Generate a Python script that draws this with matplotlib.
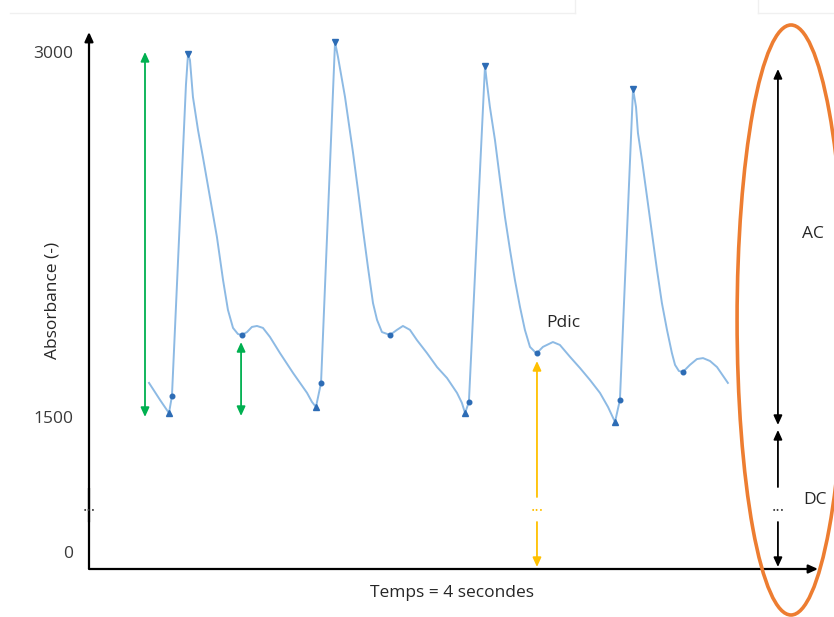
import numpy as np
import matplotlib
matplotlib.use('Agg')
import matplotlib.pyplot as plt
from matplotlib.patches import Ellipse
from matplotlib.lines import Line2D

plt.rcParams['font.family'] = ['Open Sans', 'DejaVu Sans']

# ---------------- data ----------------
time_s = [0.343, 0.406, 0.457, 0.474, 0.554, 0.566, 0.577, 0.594, 0.623, 0.651,
          0.691, 0.731, 0.766, 0.794, 0.823, 0.851, 0.874, 0.903, 0.931, 0.960,
          0.994, 1.034, 1.091, 1.166, 1.246, 1.274, 1.297,
          1.326, 1.406, 1.423, 1.463, 1.509, 1.537, 1.566, 1.594, 1.623, 1.646,
          1.674, 1.720, 1.760, 1.794, 1.834, 1.874, 1.931, 1.989, 2.046, 2.103,
          2.131, 2.149,
          2.171, 2.263, 2.274, 2.291, 2.320, 2.349, 2.377, 2.406, 2.434, 2.463,
          2.491, 2.520, 2.549, 2.560, 2.594, 2.651, 2.691, 2.749, 2.806, 2.863,
          2.920, 2.966, 3.006,
          3.034, 3.109, 3.126, 3.137, 3.160, 3.189, 3.217, 3.246, 3.274, 3.303,
          3.331, 3.349, 3.371, 3.394, 3.434, 3.474, 3.509, 3.549, 3.589, 3.651]
absorbance = [1640, 1570, 1516, 1586, 2864, 2992, 2967, 2815, 2679, 2568,
              2404, 2240, 2063, 1940, 1866, 1841, 1837, 1849, 1870, 1874,
              1866, 1829, 1763, 1681, 1599, 1562, 1541,
              1640, 3041, 2979, 2815, 2585, 2433, 2268, 2116, 1968, 1899,
              1849, 1837, 1858, 1874, 1858, 1816, 1763, 1705, 1660, 1599,
              1558, 1516,
              1562, 2942, 2873, 2774, 2638, 2474, 2322, 2186, 2063, 1952,
              1858, 1788, 1767, 1763, 1788, 1808, 1796, 1747, 1701, 1652,
              1599, 1541, 1444,
              1570, 2848, 2774, 2667, 2556, 2404, 2256, 2104, 1968, 1858,
              1763, 1714, 1689, 1685, 1714, 1738, 1742, 1730, 1705, 1640]

peak_t = [0.566, 1.406, 2.263, 3.109]
peak_v = [2992, 3041, 2942, 2848]
trough_t = [0.457, 1.297, 2.149, 3.006]
trough_v = [1516, 1541, 1516, 1444]
foot_t = [0.474, 1.326, 2.171, 3.034]
foot_v = [1586, 1640, 1562, 1570]
notch_t = [0.874, 1.720, 2.560, 3.394]
notch_v = [1837, 1837, 1763, 1685]

ytick_values = [0, 1500, 3000]
ytick_labels = ['0', '1500', '3000']
x_label = 'Temps = 4 secondes'
y_label = 'Absorbance (-)'

# annotation arrows (time, absorbance from, absorbance to)
green_big = (0.320, 1500, 3000)
green_small = (0.869, 1504, 1808)
pdic_arrow = (2.560, 1730)
ac_arrow = (3.937, 1411, 2930)
dc_arrow = (3.937, 1356)

# ---------------- broken y scale ----------------
BRK = 1500.0
UP = 365.0 / 1500.0
LO = 135.0 / 1500.0


def fwd(v):
    v = np.asarray(v, dtype=float)
    return np.where(v >= BRK, (v - BRK) * UP, (v - BRK) * LO)


def inv(u):
    u = np.asarray(u, dtype=float)
    return np.where(u >= 0, BRK + u / UP, BRK + u / LO)


fig = plt.figure(figsize=(8.34, 6.17), dpi=100)
ax = fig.add_axes([89 / 834, 48 / 617, 729 / 834, 537 / 617])
ax.set_yscale('function', functions=(fwd, inv))
XMAX = 4.166
YMIN, YMAX = -189, 3082
ax.set_xlim(0, XMAX)
ax.set_ylim(YMIN, YMAX)
for s in ax.spines.values():
    s.set_visible(False)
ax.set_xticks([])
ax.set_yticks(ytick_values, ytick_labels)
ax.tick_params(axis='y', length=0, pad=11.5, labelsize=12.5, labelcolor='#3a3a3a')
ax.patch.set_alpha(0)

GAP_TOP, GAP_BOT, DOTS_Y = 711, 333, 456


def arrow(x0, y0, x1, y1, color, style, lw=1.5):
    ax.annotate('', xy=(x1, y1), xytext=(x0, y0), xycoords='data',
                arrowprops=dict(arrowstyle=style + ',head_length=0.55,head_width=0.25',
                                color=color, lw=lw, shrinkA=0, shrinkB=0,
                                mutation_scale=10),
                annotation_clip=False)


# axes
ax.plot([0, 0], [YMIN, GAP_TOP], color='black', lw=1.6, clip_on=False, solid_capstyle='butt')
arrow(0, GAP_BOT, 0, YMAX, 'black', '-|>', 1.6)
arrow(0, YMIN, XMAX, YMIN, 'black', '-|>', 1.6)
ax.text(0, DOTS_Y, '...', ha='center', va='baseline', fontsize=12, color='#3a3a3a')

# signal
ax.plot(time_s, absorbance, color='#8dbae4', lw=1.4, solid_joinstyle='round', zorder=3)
mcol = '#2d6cb5'
ax.plot(peak_t, peak_v, 'v', ms=4.5, color=mcol, zorder=4)
ax.plot(trough_t, trough_v, '^', ms=4.5, color=mcol, zorder=4)
ax.plot(foot_t, foot_v, 'o', ms=3.3, color=mcol, zorder=4)
ax.plot(notch_t, notch_v, 'o', ms=3.3, color=mcol, zorder=4)

# green arrows
green = '#00b050'
arrow(green_big[0], green_big[1], green_big[0], green_big[2], green, '<|-|>', 1.3)
arrow(green_small[0], green_small[1], green_small[0], green_small[2], green, '<|-|>', 1.3)

# yellow Pdic arrow
yellow = '#ffc000'
arrow(pdic_arrow[0], 611, pdic_arrow[0], pdic_arrow[1], yellow, '-|>', 1.3)
arrow(pdic_arrow[0], GAP_BOT, pdic_arrow[0], -167, yellow, '-|>', 1.3)
ax.text(pdic_arrow[0], DOTS_Y, '...', ha='center', va='baseline', fontsize=12, color=yellow)
ax.text(2.709, 1886, 'Pdic', ha='center', va='center', fontsize=12.5, color='#262626')

# AC / DC arrows
arrow(ac_arrow[0], ac_arrow[1], ac_arrow[0], ac_arrow[2], 'black', '<|-|>', 1.3)
arrow(dc_arrow[0], 722, dc_arrow[0], dc_arrow[1], 'black', '-|>', 1.3)
arrow(dc_arrow[0], GAP_BOT, dc_arrow[0], -167, 'black', '-|>', 1.3)
ax.text(dc_arrow[0], DOTS_Y, '...', ha='center', va='baseline', fontsize=12, color='#3a3a3a')
ax.text(4.137, 2252, 'AC', ha='center', va='center', fontsize=12.5, color='#262626')
ax.text(4.149, 578, 'DC', ha='center', va='center', fontsize=12.5, color='#262626')

# orange ellipse
ax.add_patch(Ellipse((0.963, 0.4637), 0.148, 1.0987, transform=ax.transAxes,
                     fill=False, ec='#ed7d31', lw=2.6, clip_on=False, zorder=5))

# labels
fig.text(452 / 834, 1 - 593 / 617, x_label, ha='center', va='center',
         fontsize=12.5, color='#262626')
fig.text(53 / 834, 1 - 300 / 617, y_label, ha='center', va='center',
         rotation=90, fontsize=12.5, color='#262626')

# faint frame remnants at the top
fig.add_artist(Line2D([10 / 834, 575 / 834], [1 - 13 / 617] * 2, color='#f0f0f0', lw=1))
fig.add_artist(Line2D([758 / 834, 1], [1 - 13 / 617] * 2, color='#f0f0f0', lw=1))
fig.add_artist(Line2D([575 / 834] * 2, [1 - 13 / 617, 1], color='#f0f0f0', lw=1))
fig.add_artist(Line2D([758 / 834] * 2, [1 - 13 / 617, 1], color='#f0f0f0', lw=1))

fig.savefig('out.png', dpi=100)
